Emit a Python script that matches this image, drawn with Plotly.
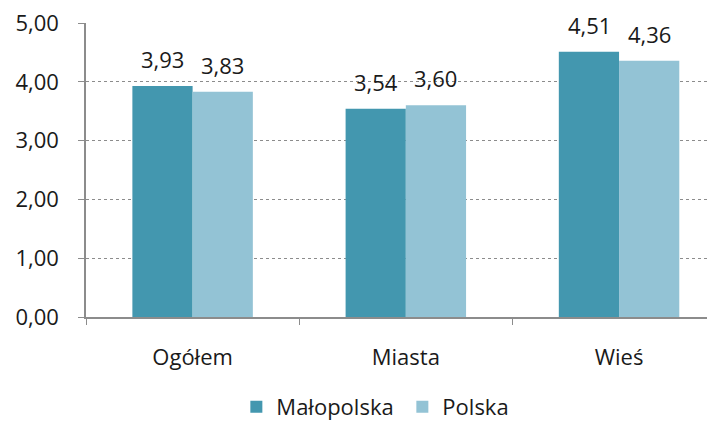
import plotly.graph_objects as go

categories = ["Ogółem", "Miasta", "Wieś"]
malopolska = [3.93, 3.54, 4.51]
polska = [3.83, 3.60, 4.36]
series_names = ["Małopolska", "Polska"]
colors = ["#4397AF", "#93C3D5"]

fig = go.Figure()
for name, vals, col in zip(series_names, [malopolska, polska], colors):
    fig.add_bar(x=categories, y=vals, name=name, marker=dict(color=col, line=dict(width=0)))

font_family = "Open Sans, Liberation Sans, sans-serif"
for vals, shift in [(malopolska, -30), (polska, 30)]:
    for c, v in zip(categories, vals):
        fig.add_annotation(x=c, y=v, text=f"{v:.2f}".replace(".", ","), showarrow=False,
                           xshift=shift, yshift=10, yanchor="bottom",
                           font=dict(size=22, color="#1a1a1a", family=font_family))

fig.update_layout(
    width=707, height=413,
    margin=dict(l=78, r=0, t=15, b=104, autoexpand=False),
    paper_bgcolor="white", plot_bgcolor="white",
    barmode="group", bargap=0.435, bargroupgap=0,
    separators=", ",
    font=dict(family=font_family, size=22, color="#1a1a1a"),
    showlegend=True,
    legend=dict(orientation="h", x=169 / 707, xanchor="left", yref="container", y=0.034,
                yanchor="middle", font=dict(size=22), itemwidth=30, traceorder="normal",
                entrywidth=121, entrywidthmode="pixels"),
)
fig.update_xaxes(range=[-0.5, 2.45], showline=True, linecolor="#8c8c8c", linewidth=1.5,
                 ticks="outside", tickson="boundaries", ticklen=6, tickcolor="#8c8c8c",
                 showgrid=False, tickfont=dict(size=22), automargin=False, ticklabelstandoff=20)
fig.update_yaxes(range=[0, 5], dtick=1, tickformat=".2f", showline=True, linecolor="#8c8c8c",
                 linewidth=1.5, ticks="outside", ticklen=6, tickcolor="#8c8c8c",
                 showgrid=True, gridcolor="#8c8c8c", griddash="dot", gridwidth=1,
                 zeroline=False, tickfont=dict(size=22), automargin=False, ticklabelstandoff=15,
                 ticklabeloverflow="allow")

fig.write_html("out.html")
